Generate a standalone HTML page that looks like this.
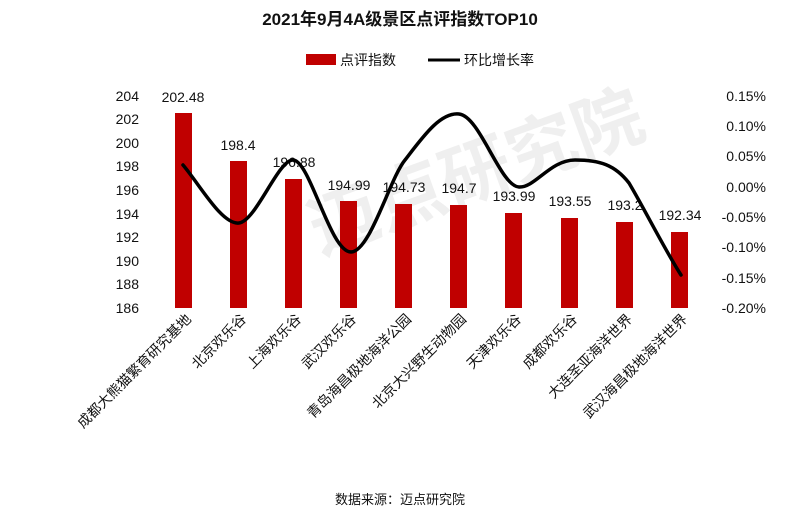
<!DOCTYPE html>
<html><head><meta charset="utf-8"><style>
body{margin:0;background:#fff;}
svg text{font-family:"Liberation Sans","Noto Sans CJK SC",sans-serif;}
</style></head><body>
<svg width="800" height="519" viewBox="0 0 800 519" xmlns="http://www.w3.org/2000/svg">
<rect width="800" height="519" fill="#fff"/>
<g opacity="0.06" fill="#000" font-size="70" font-weight="bold">
<text x="320" y="255" transform="rotate(-20 320 255)" font-family="Noto Sans CJK SC,sans-serif">迈点研究院</text>
</g>
<text x="400" y="25" text-anchor="middle" font-size="17" font-weight="bold" fill="#111">2021年9月4A级景区点评指数TOP10</text>
<rect x="306" y="54" width="30" height="11" fill="#c00000"/>
<text x="340" y="65" font-size="14" fill="#111">点评指数</text>
<line x1="428" y1="60" x2="460" y2="60" stroke="#000" stroke-width="3"/>
<text x="464" y="65" font-size="14" fill="#111">环比增长率</text>
<g font-size="14" fill="#111" text-anchor="end">
<text x="139" y="101">204</text><text x="139" y="124">202</text><text x="139" y="148">200</text><text x="139" y="171">198</text><text x="139" y="195">196</text><text x="139" y="219">194</text><text x="139" y="242">192</text><text x="139" y="266">190</text><text x="139" y="289">188</text><text x="139" y="313">186</text>
</g>
<g font-size="14" fill="#111" text-anchor="end">
<text x="766" y="101">0.15%</text><text x="766" y="131">0.10%</text><text x="766" y="161">0.05%</text><text x="766" y="192">0.00%</text><text x="766" y="222">-0.05%</text><text x="766" y="252">-0.10%</text><text x="766" y="283">-0.15%</text><text x="766" y="313">-0.20%</text>
</g>
<g fill="#c00000">
<rect x="175" y="113" width="17" height="195"/>
<rect x="230" y="161" width="17" height="147"/>
<rect x="285" y="179" width="17" height="129"/>
<rect x="340" y="201" width="17" height="107"/>
<rect x="395" y="204" width="17" height="104"/>
<rect x="450" y="205" width="17" height="103"/>
<rect x="505" y="213" width="17" height="95"/>
<rect x="561" y="218" width="17" height="90"/>
<rect x="616" y="222" width="17" height="86"/>
<rect x="671" y="232" width="17" height="76"/>
</g>
<g font-size="14" fill="#111" text-anchor="middle">
<text x="183" y="102">202.48</text><text x="238" y="150">198.4</text><text x="294" y="167">196.88</text><text x="349" y="190">194.99</text><text x="404" y="192">194.73</text><text x="459" y="193">194.7</text><text x="514" y="201">193.99</text><text x="570" y="206">193.55</text><text x="625" y="210">193.2</text><text x="680" y="220">192.34</text>
</g>
<path d="M183,165 C200,185 222,225 239,223 C256,221 278,160 293,160 C310,160 330,252 351,252 C370,252 390,178 405,160 C422,138 440,112 459,114 C480,116 500,186 519,187 C535,188 550,160 575,160 C600,160 615,165 629,183 C645,210 665,250 681,275" fill="none" stroke="#000" stroke-width="3.5" stroke-linecap="round"/>
<g font-size="14" fill="#111" text-anchor="end">
<text transform="translate(192,320) rotate(-45)">成都大熊猫繁育研究基地</text>
<text transform="translate(247,320) rotate(-45)">北京欢乐谷</text>
<text transform="translate(302,320) rotate(-45)">上海欢乐谷</text>
<text transform="translate(357,320) rotate(-45)">武汉欢乐谷</text>
<text transform="translate(412,320) rotate(-45)">青岛海昌极地海洋公园</text>
<text transform="translate(467,320) rotate(-45)">北京大兴野生动物园</text>
<text transform="translate(522,320) rotate(-45)">天津欢乐谷</text>
<text transform="translate(578,320) rotate(-45)">成都欢乐谷</text>
<text transform="translate(633,320) rotate(-45)">大连圣亚海洋世界</text>
<text transform="translate(688,320) rotate(-45)">武汉海昌极地海洋世界</text>
</g>
<text x="400" y="504" text-anchor="middle" font-size="13" fill="#111">数据来源：迈点研究院</text>
</svg>
</body></html>
